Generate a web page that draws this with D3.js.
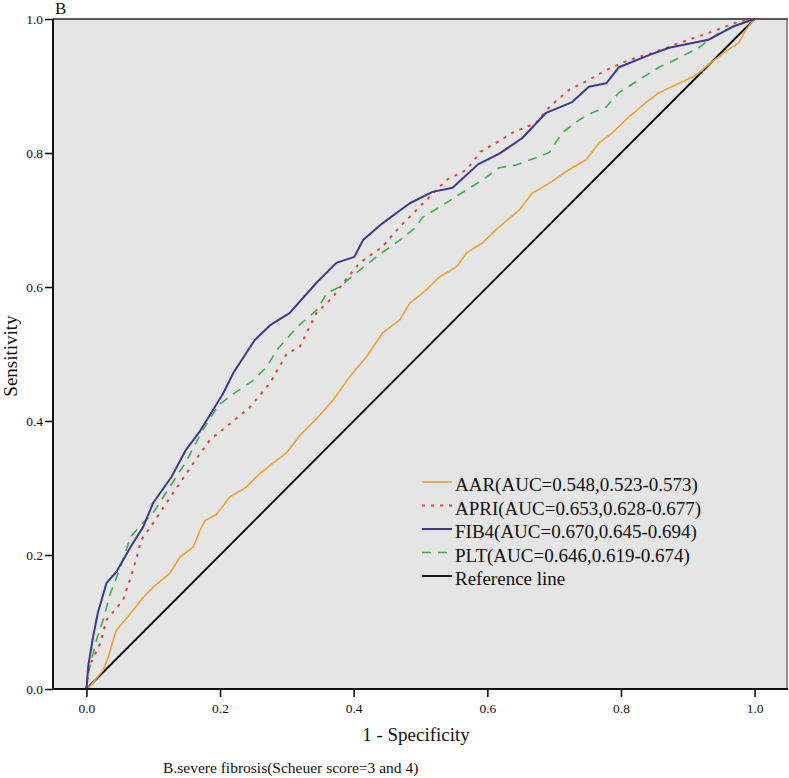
<!DOCTYPE html>
<html><head><meta charset="utf-8">
<script src="https://cdn.jsdelivr.net/npm/d3@7"></script>
<style>
body{margin:0;background:#fff;}
text{font-family:"Liberation Serif","Times New Roman",serif;fill:#111;}
</style></head>
<body>
<svg id="chart" width="789" height="778"></svg>
<script>
// ---- data ----
const xTicks = [0, 0.2, 0.4, 0.6, 0.8, 1.0];
const yTicks = [0, 0.2, 0.4, 0.6, 0.8, 1.0];

const aarX = [0,.007,.025,.033,.037,.045,.058,.070,.085,.100,.125,.140,.160,.170,.178,.194,.215,.239,.260,.279,.299,.319,.345,.369,.394,.419,.443,.469,.484,.509,.528,.554,.569,.593,.618,.648,.667,.693,.722,.748,.767,.787,.812,.837,.857,.887,.912,.936,.966,.976,.987,1];
const aarY = [0,.006,.028,.048,.063,.088,.103,.118,.137,.152,.173,.197,.212,.237,.252,.260,.287,.301,.322,.337,.352,.378,.404,.431,.466,.496,.531,.551,.576,.596,.615,.630,.651,.666,.690,.715,.740,.755,.775,.790,.815,.830,.854,.875,.890,.904,.916,.936,.958,.964,.984,1];

const apriX = [0,.004,.021,.030,.055,.070,.082,.100,.130,.160,.185,.215,.245,.275,.300,.319,.344,.369,.384,.409,.443,.469,.509,.539,.569,.590,.613,.637,.673,.693,.722,.752,.778,.812,.846,.887,.936,.976,1];
const apriY = [0,.033,.069,.103,.133,.178,.222,.248,.293,.337,.372,.396,.421,.457,.501,.510,.561,.585,.606,.636,.660,.690,.730,.760,.775,.802,.815,.830,.845,.869,.894,.909,.924,.939,.949,.964,.981,.996,1];

const fib4X = [0,.003,.010,.017,.030,.045,.066,.085,.100,.127,.149,.170,.204,.220,.252,.275,.304,.344,.374,.401,.414,.443,.484,.518,.548,.586,.618,.652,.688,.727,.752,.778,.797,.842,.872,.931,.966,.996,1];
const fib4Y = [0,.036,.078,.113,.158,.175,.212,.242,.278,.316,.357,.385,.440,.472,.521,.543,.561,.606,.636,.645,.670,.695,.725,.742,.748,.783,.799,.822,.860,.876,.899,.904,.928,.946,.957,.969,.988,.999,1];

const pltX = [0,.003,.015,.025,.036,.051,.066,.082,.100,.125,.149,.172,.198,.222,.249,.270,.285,.315,.345,.360,.379,.404,.434,.469,.494,.503,.528,.569,.590,.618,.643,.673,.693,.712,.737,.757,.778,.797,.822,.857,.887,.916,.946,.976,1];
const pltY = [0,.024,.073,.103,.143,.182,.227,.245,.263,.302,.339,.383,.424,.442,.460,.481,.506,.540,.566,.591,.600,.621,.645,.670,.690,.704,.719,.745,.758,.778,.782,.793,.801,.830,.849,.860,.869,.890,.906,.928,.942,.957,.979,.991,1];

const refX = [0, 1];
const refY = [0, 1];

const seriesNames = ["AAR(AUC=0.548,0.523-0.573)","APRI(AUC=0.653,0.628-0.677)","FIB4(AUC=0.670,0.645-0.694)","PLT(AUC=0.646,0.619-0.674)","Reference line"];

// ---- styles ----
const styles = [
  {color:"#f0a030", width:1.6, dash:null},
  {color:"#e4463a", width:2,   dash:"3,6"},
  {color:"#3b3a8c", width:2,   dash:null},
  {color:"#3fae4a", width:1.6, dash:"9,7"},
  {color:"#000000", width:1.8, dash:null}
];
const seriesData = [[aarX,aarY],[apriX,apriY],[fib4X,fib4Y],[pltX,pltY],[refX,refY]];

const svg = d3.select("#chart");
const mLeft = 53, mRight = 788, mTop = 19, mBottom = 689;
const x = d3.scaleLinear().domain([-0.05, 1.05]).range([mLeft, mRight]);
const y = d3.scaleLinear().domain([0, 1]).range([mBottom, mTop]);

// plot background
svg.append("rect").attr("x", mLeft).attr("y", mTop).attr("width", mRight-mLeft).attr("height", mBottom-mTop)
  .attr("fill", "#e5e5e5");
// frame top/right
svg.append("line").attr("x1", mLeft).attr("x2", mRight).attr("y1", mTop).attr("y2", mTop)
  .attr("stroke", "#555").attr("stroke-width", 2);
svg.append("line").attr("x1", mRight-1).attr("x2", mRight-1).attr("y1", mTop).attr("y2", mBottom)
  .attr("stroke", "#777").attr("stroke-width", 1.5);

const line = d3.line().x(d => x(d[0])).y(d => y(d[1]));
const order = [4, 0, 3, 1, 2];
order.forEach(i => {
  const [xs, ys] = seriesData[i];
  const pts = xs.map((v, k) => [v, ys[k]]);
  const p = svg.append("path").datum(pts).attr("d", line)
    .attr("fill", "none").attr("stroke", styles[i].color)
    .attr("stroke-width", styles[i].width).attr("stroke-linejoin","round");
  if (styles[i].dash) p.attr("stroke-dasharray", styles[i].dash);
});

// axes
const yAxis = d3.axisLeft(y).tickValues(yTicks).tickFormat(d3.format(".1f")).tickSizeOuter(0).tickSize(8).tickPadding(2);
const gy = svg.append("g").attr("transform", `translate(${mLeft},0)`).call(yAxis);
const xAxis = d3.axisBottom(x).tickValues(xTicks).tickFormat(d3.format(".1f")).tickSizeOuter(0).tickSize(8).tickPadding(6);
const gx = svg.append("g").attr("transform", `translate(0,${mBottom})`).call(xAxis);
[gx, gy].forEach(g => {
  g.selectAll("text").style("font-family", '"Liberation Serif","Times New Roman",serif').style("font-size","13.5px").attr("fill","#111");
  g.selectAll("line").attr("stroke","#111").attr("stroke-width",1.6);
  g.select(".domain").remove();
});
svg.append("line").attr("x1", mLeft).attr("x2", mLeft).attr("y1", mTop).attr("y2", mBottom).attr("stroke","#111").attr("stroke-width",2);
svg.append("line").attr("x1", mLeft).attr("x2", mRight).attr("y1", mBottom).attr("y2", mBottom).attr("stroke","#111").attr("stroke-width",2);

// titles
svg.append("text").attr("x", 416).attr("y", 741).attr("text-anchor","middle")
  .style("font-size","19px").text("1 - Specificity");
svg.append("text").attr("transform","translate(17,356) rotate(-90)").attr("text-anchor","middle")
  .style("font-size","19px").text("Sensitivity");
svg.append("text").attr("x", 55).attr("y", 14).style("font-size","17px").text("B");
svg.append("text").attr("x", 163).attr("y", 773).style("font-size","15.5px")
  .text("B.severe fibrosis(Scheuer score=3 and 4)");

// legend
const legY0 = 491, legStep = 23.5;
seriesNames.forEach((name, i) => {
  const by = legY0 + i*legStep;
  const l = svg.append("line").attr("x1", 422).attr("x2", 452).attr("y1", by-9).attr("y2", by-9)
    .attr("stroke", styles[i].color).attr("stroke-width", styles[i].width);
  if (styles[i].dash) l.attr("stroke-dasharray", styles[i].dash);
  svg.append("text").attr("x", 455).attr("y", by).style("font-size","19px").text(name);
});
</script>
</body></html>
